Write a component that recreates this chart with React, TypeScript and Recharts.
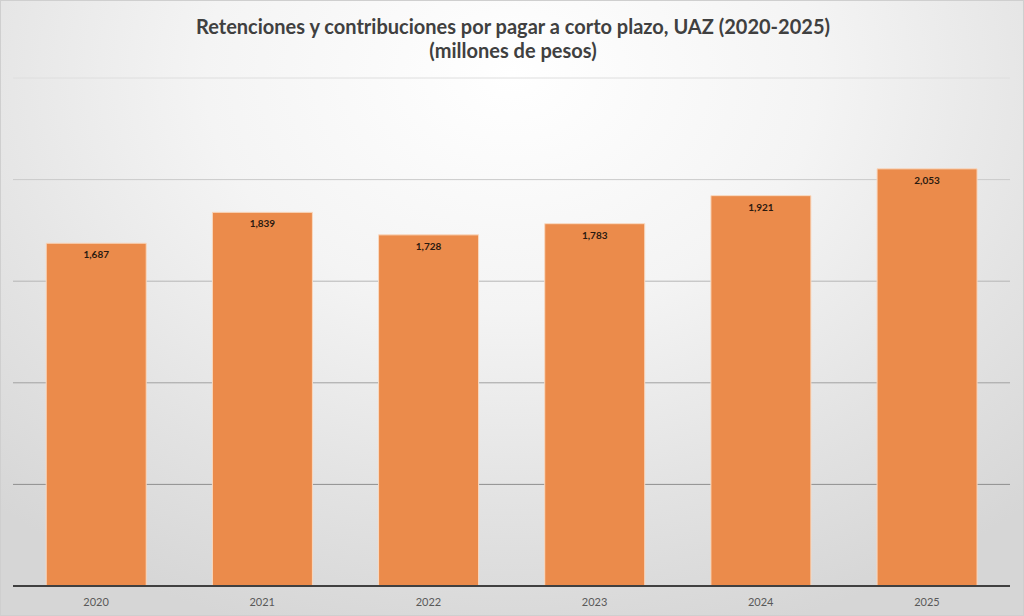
import React from 'react'
import { BarChart, Bar, XAxis, YAxis, CartesianGrid, LabelList } from 'recharts'

const years = ['2020', '2021', '2022', '2023', '2024', '2025']
const amounts = [1687, 1839, 1728, 1783, 1921, 2053]
const yTicks = [0, 500, 1000, 1500, 2000, 2500]

const data = years.map((year, i) => ({ year, value: amounts[i] }))

const titleFont = "Lato, 'Open Sans', sans-serif"

// gridlines get darker toward the bottom, like in the original slide
const GridLine = (props: any) => {
  const { x1, x2, y1, y2 } = props
  if (y1 > 580) return null
  const t = Math.min(1, Math.max(0, (y1 - 78) / 406))
  const g = Math.round(222 - t * 80)
  return <line x1={x1} x2={x2} y1={y1} y2={y2} stroke={`rgb(${g},${g},${g})`} strokeWidth={1} />
}

const formatValue = (v: any) => Number(v).toLocaleString('en-US')

export default function App() {
  return (
    <div
      style={{
        position: 'absolute',
        left: 0,
        top: 0,
        width: 1024,
        height: 616,
        boxSizing: 'border-box',
        border: '1px solid #cfcfcf',
        background: 'radial-gradient(ellipse 75% 95% at 50% 12%, #ffffff 0%, #f4f4f4 40%, #e2e2e2 75%, #d6d6d6 100%)',
        fontFamily: titleFont,
        overflow: 'hidden'
      }}
    >
      <div
        style={{
          position: 'absolute',
          left: 0,
          top: 13,
          width: 1024,
          textAlign: 'center',
          fontSize: 20,
          fontWeight: 700,
          color: '#404040',
          lineHeight: '24px'
        }}
      >
        Retenciones y contribuciones por pagar a corto plazo, UAZ (2020-2025)
        <br />
        (millones de pesos)
      </div>
      <div style={{ position: 'absolute', left: -1, top: -1 }}>
        <BarChart
          width={1024}
          height={616}
          data={data}
          margin={{ top: 78, right: 14, left: 13, bottom: 0 }}
          barCategoryGap="20%"
        >
          <CartesianGrid vertical={false} horizontal={<GridLine />} />
          <YAxis hide domain={[0, 2500]} ticks={yTicks} />
          <XAxis
            dataKey="year"
            height={30}
            tickLine={false}
            axisLine={{ stroke: '#404040', strokeWidth: 2 }}
            tick={{ fill: '#595959', fontSize: 11, fontFamily: titleFont }}
            tickMargin={6}
          />
          <Bar
            dataKey="value"
            fill="#eb8b4b"
            stroke="#f9d9c0"
            strokeWidth={1}
            isAnimationActive={false}
          >
            <LabelList
              dataKey="value"
              position="insideTop"
              offset={8}
              formatter={formatValue}
              style={{ fill: '#2a1a10', fontSize: 10, fontWeight: 700, fontFamily: titleFont }}
            />
          </Bar>
        </BarChart>
      </div>
    </div>
  )
}
